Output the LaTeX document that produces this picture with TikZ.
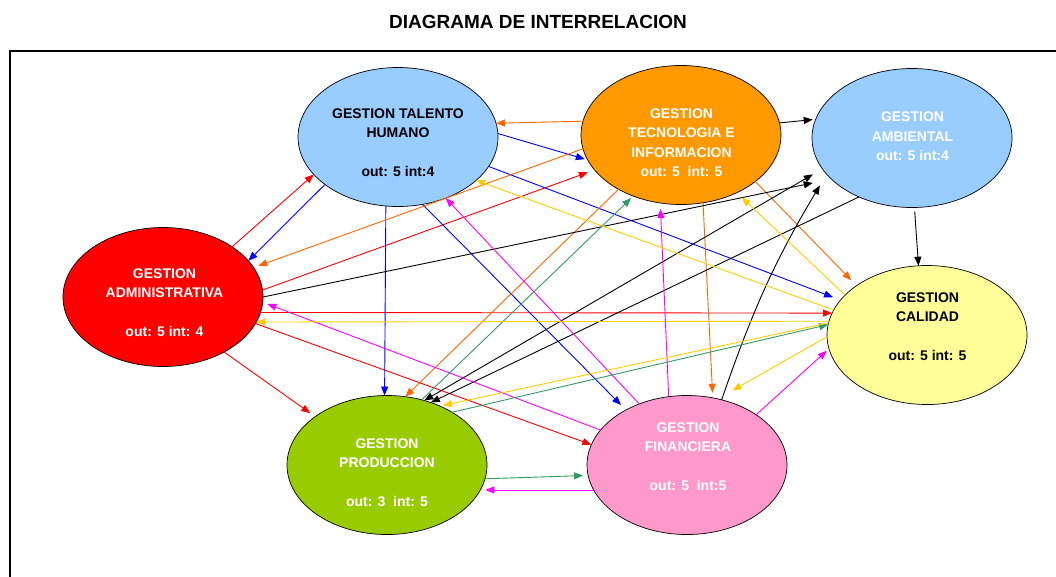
\documentclass[tikz,border=0pt]{standalone}
\usepackage{fontspec}
\setmainfont{Liberation Sans}
\usetikzlibrary{shapes.geometric,arrows.meta}
\definecolor{cred}{HTML}{FF0000}
\definecolor{cblue}{HTML}{0000FF}
\definecolor{corange}{HTML}{FF6600}
\definecolor{cmag}{HTML}{FF00FF}
\definecolor{cgold}{HTML}{FFCC00}
\definecolor{cgreen}{HTML}{339966}
\definecolor{fblue}{HTML}{99CCFF}
\definecolor{forange}{HTML}{FF9900}
\definecolor{fred}{HTML}{FF0000}
\definecolor{fyellow}{HTML}{FFFF99}
\definecolor{fgreen}{HTML}{99CC00}
\definecolor{fpink}{HTML}{FF99CC}
\begin{document}
\begin{tikzpicture}[x=1pt,y=-1pt,
  ell/.style={ellipse, draw=black, line width=0.7pt, minimum width=200pt, minimum height=139pt, inner sep=0pt, outer sep=0pt},
  lbl/.style={align=center, font=\fontsize{14}{19.5}\selectfont\bfseries, inner sep=0pt},
  arr/.style={line width=0.9pt, -{Triangle[length=9pt,width=7pt]}},
  arrb/.style={line width=0.9pt, {Triangle[length=9pt,width=7pt]}-{Triangle[length=9pt,width=7pt]}}]
\useasboundingbox (0,0) rectangle (1056,576);
% title and frame
\node[font=\fontsize{19}{22}\selectfont\bfseries, anchor=base, inner sep=0pt] (title) at (538,28) {DIAGRAMA DE INTERRELACION};
\draw[line width=2.2pt] (10,590) -- (10,51) -- (1070,51);
% ellipses
\node[ell, fill=fblue]   (TH) at (398,137) {};
\node[ell, fill=forange] (TI) at (681,135) {};
\node[ell, fill=fblue]   (AM) at (912,138) {};
\node[ell, fill=fred]    (AD) at (163,297) {};
\node[ell, fill=fyellow] (CA) at (927,335) {};
\node[ell, fill=fgreen]  (PR) at (387,465) {};
\node[ell, fill=fpink]   (FI) at (687,465) {};
% red (from Administrativa)
\draw[arr,cred] (AD.36) -- (TH.204);
\draw[arr,cred,shorten >=7pt] (AD.4) -- (TI.202);
\draw[arr,cred] (AD.-9) -- (CA.167);
\draw[arr,cred,shorten >=6pt] (AD.-42) -- (PR.146);
\draw[arr,cred] (AD.-16.6) -- (FI.168);
% blue (from Talento Humano)
\draw[arr,cblue] (TH.213) -- (AD.23.5);
\draw[arr,cblue,shorten >=3pt] (TH.2) -- (TI.195);
\draw[arr,cblue,shorten >=8pt] (TH.-18) -- (CA.158);
\draw[arr,cblue] (TH.260) -- (PR.92);
\draw[arr,cblue,shorten >=7pt] (TH.-70) -- (FI.138);
% orange (from Tecnologia)
\draw[arr,corange] (TI.172.4) -- (TH.8.7);
\draw[arr,corange,shorten >=5pt] (TI.188) -- (AD.18.6);
\draw[arr,corange] (TI.221) -- (PR.75);
\draw[arr,corange,shorten >=5pt] (TI.-72.5) -- (FI.69);
\draw[arr,corange,shorten >=7.5pt] (TI.-32.4) -- (CA.145);
% black (Ambiental)
\draw[arr,black,shorten >=3pt] (TI.7.5) -- (AM.169);
\draw[arr,black,shorten >=19pt] (AD.0) -- (AM.207);
\draw[arrb,black,shorten >=11pt] (PR.60) -- (AM.199);
\draw[arr,black,shorten >=13pt] (FI.62) to[bend left=6] (AM.203);
\draw[arr,black,shorten <=4pt] (AM.-88) -- (CA.97);
\draw[arr,black] (AM.228) -- (PR.55);
% magenta (from Financiera)
\draw[arr,cmag] (FI.128.4) -- (TH.-52);
\draw[arr,cmag,shorten >=5pt] (FI.158) -- (AD.-3);
\draw[arr,cmag,shorten >=6pt] (FI.105.6) -- (TI.253);
\draw[arr,cmag,shorten >=5pt] (FI.195) -- (PR.-15.4);
\draw[arr,cmag,shorten >=3pt] (FI.36.7) -- (CA.188.4);
% green (from Produccion)
\draw[arr,cgreen,shorten >=3pt] (PR.62) -- (TI.232.7);
\draw[arr,cgreen] (PR.39) -- (CA.174);
\draw[arr,cgreen,shorten >=5pt] (PR.-8) -- (FI.186.5);
% gold (from Calidad)
\draw[arr,cgold] (CA.165) -- (TH.-29.7);
\draw[arr,cgold,shorten >=7pt] (CA.154.5) -- (TI.-46);
\draw[arr,cgold] (CA.172) -- (AD.-15.3);
\draw[arr,cgold,shorten >=3pt] (CA.173.3) -- (PR.48);
\draw[arr,cgold,shorten >=17pt] (CA.181.8) -- (FI.65);
% labels
\node[lbl, text=black] (THt) at (398,142.5) {GESTION TALENTO\\HUMANO\\[19.5pt]out: 5 int:4};
\node[lbl, text=white] (TIt) at (681.5,142.5) {GESTION\\TECNOLOGIA E\\INFORMACION\\out: 5~ int: 5};
\node[lbl, text=white] (AMt) at (912.5,136.5) {GESTION\\AMBIENTAL\\out: 5 int:4};
\node[lbl, text=white] (ADt) at (164.5,302.5) {GESTION\\ADMINISTRATIVA\\[19.5pt]out: 5 int: 4};
\node[lbl, text=black] (CAt) at (927.5,326.5) {GESTION\\CALIDAD\\[19.5pt]out: 5 int: 5};
\node[lbl, text=white] (PRt) at (387,472.5) {GESTION\\PRODUCCION\\[19.5pt]out: 3~ int: 5};
\node[lbl, text=white] (FIt) at (688,456.5) {GESTION\\FINANCIERA\\[19.5pt]out: 5~ int:5};
\end{tikzpicture}
\end{document}
